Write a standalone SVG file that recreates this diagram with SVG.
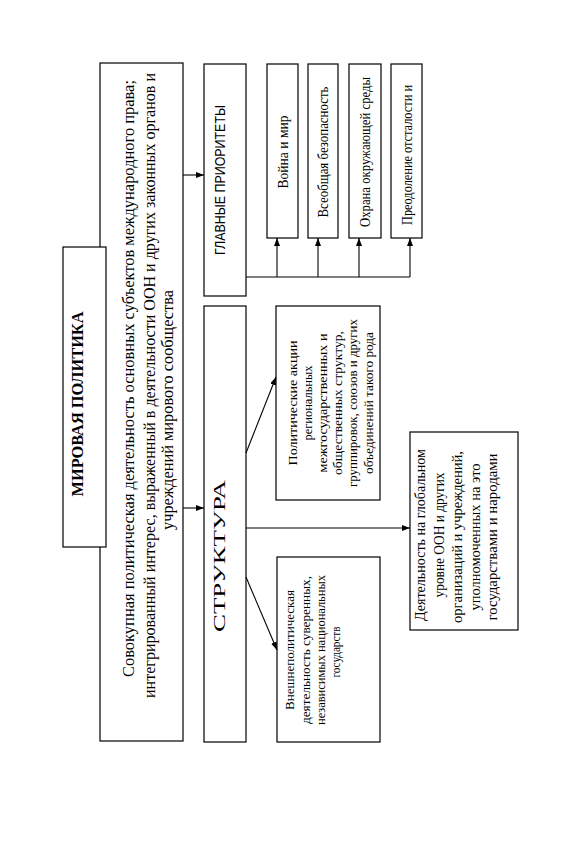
<svg xmlns="http://www.w3.org/2000/svg" width="576" height="852" viewBox="0 0 576 852">
<style>
.box{fill:#fff;stroke:#000;stroke-width:1.2}
.ln{fill:none;stroke:#000;stroke-width:1.1}
.s{font-family:"Liberation Serif","Times New Roman",serif;fill:#000}
.m{font-family:"Liberation Serif","Times New Roman",serif;fill:#000;text-anchor:middle}
.a{font-family:"Liberation Sans",Arial,sans-serif;fill:#000;text-anchor:middle}
.t13{font-size:13.5px}
</style>
<defs>
<marker id="ah" viewBox="0 0 8 6" refX="8" refY="3" markerWidth="8" markerHeight="6" markerUnits="userSpaceOnUse" orient="auto">
<path d="M0,0 L8,3 L0,6 z" fill="#000"/>
</marker>
</defs>
<rect width="576" height="852" fill="#fff"/>

<g id="def">
<rect class="box" x="100" y="63" width="83" height="678"/>
<text class="s" font-size="16" transform="translate(134,677) rotate(-90)" textLength="597" lengthAdjust="spacingAndGlyphs">Совокупная политическая деятельность основных субъектов международного права;</text>
<text class="s" font-size="16" transform="translate(155,698) rotate(-90)" textLength="625" lengthAdjust="spacingAndGlyphs">интегрированный интерес, выраженный в деятельности ООН и других законных органов и</text>
<text class="s" font-size="16" transform="translate(173,530) rotate(-90)" textLength="240" lengthAdjust="spacingAndGlyphs">учреждений мирового сообщества</text>
</g>

<g id="title">
<rect class="box" x="63" y="247" width="43" height="300"/>
<text class="m" font-size="16" font-weight="bold" transform="translate(83,404) rotate(-90)" textLength="185" lengthAdjust="spacingAndGlyphs">МИРОВАЯ ПОЛИТИКА</text>
</g>

<g id="priorities">
<rect class="box" x="204" y="64" width="42" height="232"/>
<text class="a" font-size="14" transform="translate(225,180) rotate(-90)" textLength="150" lengthAdjust="spacingAndGlyphs">ГЛАВНЫЕ ПРИОРИТЕТЫ</text>
</g>

<g id="p1">
<rect class="box" x="267" y="64" width="31" height="174"/>
<text class="m" font-size="15" transform="translate(287.5,152) rotate(-90)" textLength="73" lengthAdjust="spacingAndGlyphs">Война и мир</text>
</g>
<g id="p2">
<rect class="box" x="308" y="64" width="30" height="174"/>
<text class="m" font-size="15" transform="translate(328,152) rotate(-90)" textLength="131" lengthAdjust="spacingAndGlyphs">Всеобщая безопасность</text>
</g>
<g id="p3">
<rect class="box" x="349" y="64" width="32" height="174"/>
<text class="m" font-size="15" transform="translate(370,152) rotate(-90)" textLength="150" lengthAdjust="spacingAndGlyphs">Охрана окружающей среды</text>
</g>
<g id="p4">
<rect class="box" x="391" y="64" width="31" height="174"/>
<text class="m" font-size="15" transform="translate(411.5,155) rotate(-90)" textLength="140" lengthAdjust="spacingAndGlyphs">Преодоление отсталости и</text>
</g>

<g id="structure">
<rect class="box" x="204" y="306" width="42" height="436"/>
<text class="m" font-size="16" transform="translate(225,556) rotate(-90)" textLength="152" lengthAdjust="spacingAndGlyphs">СТРУКТУРА</text>
</g>

<g id="regional">
<rect class="box" x="276" y="306" width="104" height="194"/>
<text class="m t13" transform="translate(296.5,403) rotate(-90)" textLength="125" lengthAdjust="spacingAndGlyphs">Политические акции</text>
<text class="m t13" transform="translate(311.5,403) rotate(-90)" textLength="75" lengthAdjust="spacingAndGlyphs">региональных</text>
<text class="m t13" transform="translate(326.5,403) rotate(-90)" textLength="139" lengthAdjust="spacingAndGlyphs">межгосударственных и</text>
<text class="m t13" transform="translate(342,403) rotate(-90)" textLength="144" lengthAdjust="spacingAndGlyphs">общественных структур,</text>
<text class="m t13" transform="translate(357,403) rotate(-90)" textLength="168" lengthAdjust="spacingAndGlyphs">группировок, союзов и других</text>
<text class="m t13" transform="translate(372.5,403) rotate(-90)" textLength="142" lengthAdjust="spacingAndGlyphs">объединений такого рода</text>
</g>

<g id="foreign">
<rect class="box" x="277" y="557" width="103" height="185"/>
<text class="m t13" transform="translate(293.5,650) rotate(-90)" textLength="120" lengthAdjust="spacingAndGlyphs">Внешнеполитическая</text>
<text class="m t13" transform="translate(309.5,650) rotate(-90)" textLength="148" lengthAdjust="spacingAndGlyphs">деятельность суверенных,</text>
<text class="m t13" transform="translate(324.5,650) rotate(-90)" textLength="150" lengthAdjust="spacingAndGlyphs">независимых национальных</text>
<text class="m t13" transform="translate(339.5,652) rotate(-90)" textLength="51" lengthAdjust="spacingAndGlyphs">государств</text>
</g>

<g id="global">
<rect class="box" x="410" y="432" width="108" height="198"/>
<text class="m" font-size="14" transform="translate(425,535) rotate(-90)" textLength="172" lengthAdjust="spacingAndGlyphs">Деятельность на глобальном</text>
<text class="m" font-size="14" transform="translate(443.5,535) rotate(-90)" textLength="125" lengthAdjust="spacingAndGlyphs">уровне ООН и других</text>
<text class="m" font-size="14" transform="translate(461.5,537) rotate(-90)" textLength="172" lengthAdjust="spacingAndGlyphs">организаций и учреждений,</text>
<text class="m" font-size="14" transform="translate(479.5,537) rotate(-90)" textLength="147" lengthAdjust="spacingAndGlyphs">уполномоченных на это</text>
<text class="m" font-size="14" transform="translate(497,537) rotate(-90)" textLength="167" lengthAdjust="spacingAndGlyphs">государствами и народами</text>
</g>

<g id="connectors">
<line class="ln" x1="183" y1="175" x2="204" y2="175" marker-end="url(#ah)"/>
<line class="ln" x1="183" y1="508" x2="204" y2="508" marker-end="url(#ah)"/>
<polyline class="ln" points="246,277 410,277"/>
<line class="ln" x1="277" y1="277" x2="277" y2="238" marker-end="url(#ah)"/>
<line class="ln" x1="318" y1="277" x2="318" y2="238" marker-end="url(#ah)"/>
<line class="ln" x1="359" y1="277" x2="359" y2="238" marker-end="url(#ah)"/>
<line class="ln" x1="410" y1="277" x2="410" y2="238" marker-end="url(#ah)"/>
<line class="ln" x1="246" y1="453" x2="276" y2="377" marker-end="url(#ah)"/>
<line class="ln" x1="246" y1="528" x2="410" y2="528" marker-end="url(#ah)"/>
<line class="ln" x1="246" y1="577" x2="277" y2="650" marker-end="url(#ah)"/>
</g>
</svg>
